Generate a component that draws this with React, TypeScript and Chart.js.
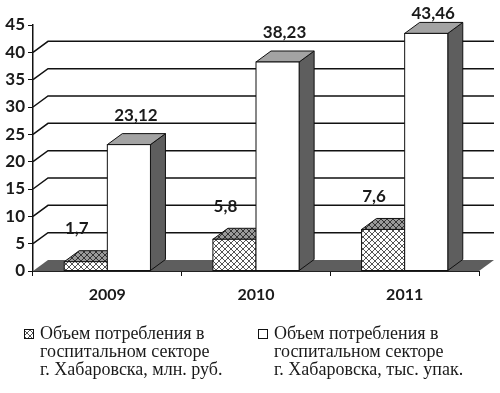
import React, { useEffect, useRef } from 'react';
import { Chart, registerables } from 'chart.js';

Chart.register(...registerables);

const categories = ['2009', '2010', '2011'];
const rubValues = [1.7, 5.8, 7.6];
const packValues = [23.12, 38.23, 43.46];
const rubLegend = ['Объем потребления в', 'госпитальном секторе', 'г. Хабаровска, млн. руб.'];
const packLegend = ['Объем потребления в', 'госпитальном секторе', 'г. Хабаровска, тыс. упак.'];
const yMin = 0;
const yMax = 45;
const yStep = 5;

const DX = 15;
const DY = -11;

function makeHatch(ctx: CanvasRenderingContext2D, bg: string, line: string) {
  const c = document.createElement('canvas');
  c.width = 6;
  c.height = 6;
  const g = c.getContext('2d')!;
  g.fillStyle = bg;
  g.fillRect(0, 0, 6, 6);
  g.strokeStyle = line;
  g.lineWidth = 1;
  g.beginPath();
  g.moveTo(0, 0);
  g.lineTo(6, 6);
  g.moveTo(6, 0);
  g.lineTo(0, 6);
  g.stroke();
  return ctx.createPattern(c, 'repeat')!;
}

const fmt = (v: number) => String(v).replace('.', ',');

export default function App() {
  const ref = useRef<HTMLCanvasElement>(null);
  useEffect(() => {
    const canvas = ref.current!;
    const ctx0 = canvas.getContext('2d')!;
    const hatchFront = makeHatch(ctx0, '#ffffff', '#555555');
    const hatchTop = makeHatch(ctx0, '#9a9a9a', '#333333');

    const styles = [
      { front: hatchFront as any, top: hatchTop as any, side: '#5e5e5e' },
      { front: '#ffffff', top: '#a3a3a3', side: '#5e5e5e' },
    ];

    const plugin = {
      id: 'three-d',
      beforeDatasetsDraw(chart: any) {
        const { ctx, chartArea, scales } = chart;
        const y = scales.y;
        const left = chartArea.left;
        const right = chartArea.right;
        const y0 = y.getPixelForValue(yMin);
        ctx.save();
        // floor
        ctx.fillStyle = '#5e5e5e';
        ctx.beginPath();
        ctx.moveTo(left, y0);
        ctx.lineTo(right, y0);
        ctx.lineTo(right + DX, y0 + DY);
        ctx.lineTo(left + DX, y0 + DY);
        ctx.closePath();
        ctx.fill();
        ctx.strokeStyle = '#222';
        ctx.lineWidth = 1;
        ctx.beginPath();
        ctx.moveTo(left, y0 + 0.5);
        ctx.lineTo(right, y0 + 0.5);
        ctx.stroke();
        // back gridlines
        ctx.strokeStyle = '#111';
        ctx.lineWidth = 1.5;
        for (let v = yMin + yStep; v < yMax; v += yStep) {
          const py = y.getPixelForValue(v);
          ctx.beginPath();
          ctx.moveTo(left, py);
          ctx.lineTo(left + DX, py + DY);
          ctx.lineTo(right + DX, py + DY);
          ctx.stroke();
        }
        ctx.restore();
      },
      afterDatasetsDraw(chart: any) {
        const { ctx } = chart;
        ctx.save();
        ctx.strokeStyle = '#111';
        ctx.lineWidth = 1;
        ctx.lineJoin = 'miter';
        const nCat = chart.data.labels.length;
        const labels: any[] = [];
        for (let i = 0; i < nCat; i++) {
          for (let d = 0; d < chart.data.datasets.length; d++) {
            const el = chart.getDatasetMeta(d).data[i];
            const p = el.getProps(['x', 'y', 'base', 'width'], true);
            const l = p.x - p.width / 2;
            const r = p.x + p.width / 2;
            const t = p.y;
            const b = p.base;
            const st = styles[d];
            // side
            ctx.fillStyle = st.side;
            ctx.beginPath();
            ctx.moveTo(r, t);
            ctx.lineTo(r + DX, t + DY);
            ctx.lineTo(r + DX, b + DY);
            ctx.lineTo(r, b);
            ctx.closePath();
            ctx.fill();
            ctx.stroke();
            // top
            ctx.fillStyle = st.top;
            ctx.beginPath();
            ctx.moveTo(l, t);
            ctx.lineTo(l + DX, t + DY);
            ctx.lineTo(r + DX, t + DY);
            ctx.lineTo(r, t);
            ctx.closePath();
            ctx.fill();
            ctx.stroke();
            // front
            ctx.fillStyle = st.front;
            ctx.fillRect(l, t, r - l, b - t);
            ctx.strokeRect(l, t, r - l, b - t);
            const val = chart.data.datasets[d].data[i];
            const lx = d === 0 ? p.x - 9 : p.x + 7;
            const ly = Math.max(14, t + DY - (d === 0 ? 22 : 18));
            labels.push([fmt(val), lx, ly]);
          }
        }
        ctx.font = 'bold 17px Lato';
        ctx.fillStyle = '#1a1a1a';
        ctx.textAlign = 'center';
        ctx.textBaseline = 'middle';
        for (const [txt, lx, ly] of labels) ctx.fillText(txt, lx, ly);
        ctx.restore();
      },
      afterDraw(chart: any) {
        const { ctx } = chart;
        ctx.save();
        const blocks = [
          { x: 24, lines: rubLegend, style: 0 },
          { x: 258, lines: packLegend, style: 1 },
        ];
        ctx.font = '18px "Liberation Serif"';
        ctx.textBaseline = 'middle';
        ctx.textAlign = 'left';
        for (const bl of blocks) {
          ctx.fillStyle = styles[bl.style].front;
          ctx.fillRect(bl.x, 329, 9, 9);
          ctx.strokeStyle = '#111';
          ctx.lineWidth = 1;
          ctx.strokeRect(bl.x + 0.5, 329.5, 9, 9);
          ctx.fillStyle = '#1a1a1a';
          bl.lines.forEach((ln, k) => ctx.fillText(ln, bl.x + 16, 334 + k * 18));
        }
        ctx.restore();
      },
    };

    const chart = new Chart(canvas, {
      type: 'bar',
      data: {
        labels: categories,
        datasets: [
          { label: rubLegend.join(' '), data: rubValues, backgroundColor: 'transparent', borderWidth: 0 },
          { label: packLegend.join(' '), data: packValues, backgroundColor: 'transparent', borderWidth: 0 },
        ],
      },
      options: {
        animation: false,
        responsive: false,
        devicePixelRatio: 1,
        layout: { padding: { left: 0, right: 21, top: 25, bottom: 92 } },
        plugins: { legend: { display: false }, tooltip: { enabled: false } },
        datasets: { bar: { categoryPercentage: 0.58, barPercentage: 1 } },
        scales: {
          x: {
            ticks: { font: { family: 'Lato', weight: 'bold', size: 16 }, color: '#1a1a1a', padding: 9 },
            grid: { display: true, drawOnChartArea: false, tickLength: 5, color: '#111', offset: true },
            border: { display: false },
            afterFit: (s: any) => { s.height = 30; },
          },
          y: {
            min: yMin,
            max: yMax,
            ticks: { stepSize: yStep, font: { family: 'Lato', weight: 'bold', size: 17 }, color: '#1a1a1a', padding: 3 },
            grid: { display: true, drawOnChartArea: false, tickLength: 5, color: '#111' },
            border: { display: true, color: '#111', width: 1.5 },
            afterFit: (s: any) => { s.width = 33; },
          },
        },
      },
      plugins: [plugin],
    } as any);
    return () => chart.destroy();
  }, []);
  return (
    <div style={{ position: 'fixed', left: 0, top: 0, width: 500, height: 393, background: '#fff' }}>
      <canvas ref={ref} width={500} height={393} style={{ display: 'block' }} />
    </div>
  );
}
